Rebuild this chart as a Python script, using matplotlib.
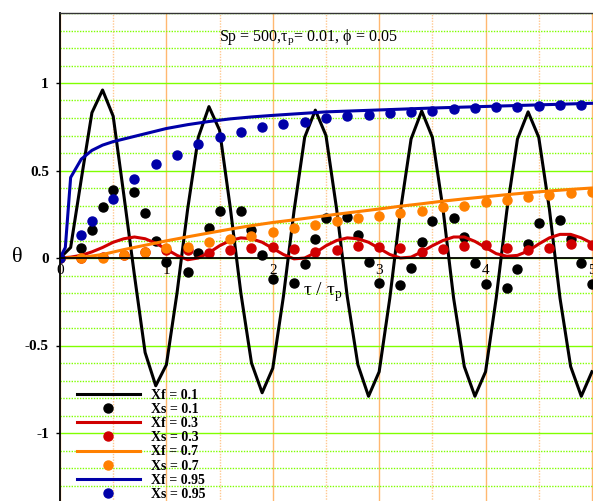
import numpy as np
import matplotlib
matplotlib.use("Agg")
import matplotlib.pyplot as plt
from matplotlib.ticker import MultipleLocator

plt.rcParams['font.family'] = ['Liberation Serif', 'DejaVu Serif']
plt.rcParams['mathtext.fontset'] = 'custom'
plt.rcParams['mathtext.rm'] = 'Liberation Serif'
plt.rcParams['axes.unicode_minus'] = False

nan = np.nan

# time grid tau/tau_p, step 0.1
t10 = np.round(np.arange(51) * 0.1, 1)
t20 = t10[::2]

# Xf = 0.1 (fluid, line)
xf01 = [0.0, 0.06, 0.45, 0.83, 0.96, 0.81, 0.36, -0.10, -0.54, -0.73,
        -0.61, -0.20, 0.28, 0.69, 0.865, 0.73, 0.29, -0.20, -0.60, -0.77,
        -0.63, -0.22, 0.27, 0.69, 0.845, 0.70, 0.28, -0.22, -0.61, -0.79,
        -0.65, -0.23, 0.27, 0.68, 0.84, 0.69, 0.28, -0.23, -0.62, -0.79,
        -0.65, -0.23, 0.27, 0.68, 0.835, 0.69, 0.28, -0.23, -0.62, -0.79,
        -0.65]
# Xs = 0.1 (solid, dots)
xs01 = [0.0, nan, 0.06, 0.16, 0.29, 0.39, nan, 0.38, 0.26, 0.10,
        -0.02, nan, -0.08, 0.03, 0.17, 0.27, nan, 0.27, 0.16, 0.02,
        -0.12, nan, -0.14, -0.035, 0.11, 0.23, nan, 0.235, 0.13, -0.02,
        -0.14, nan, -0.155, -0.055, 0.09, 0.21, nan, 0.23, 0.12, -0.03,
        -0.15, nan, -0.17, -0.06, 0.08, 0.20, nan, 0.215, 0.11, -0.03,
        -0.15]

# Xf = 0.3
xf03 = [0.0, 0.005, 0.015, 0.035, 0.06, 0.09, 0.11, 0.12, 0.11, 0.085,
        0.05, 0.015, -0.01, 0.0, 0.03, 0.07, 0.10, 0.115, 0.11, 0.09,
        0.055, 0.02, -0.005, 0.0, 0.03, 0.07, 0.10, 0.115, 0.11, 0.09,
        0.055, 0.02, 0.0, 0.005, 0.035, 0.07, 0.10, 0.12, 0.12, 0.095,
        0.06, 0.025, 0.01, 0.015, 0.04, 0.08, 0.115, 0.135, 0.135, 0.115,
        0.085]
# Xs = 0.3
xs03 = [0.0, 0.0, 0.005, 0.02, 0.035, 0.045, 0.045, 0.03, 0.045, 0.06,
        0.065, 0.05, 0.035, 0.045, 0.07, 0.065, 0.055, 0.035, 0.05, 0.07,
        0.075, 0.06, 0.045, 0.06, 0.08, 0.075]

# Xf = 0.7
xf07 = [0.0, 0.003, 0.02, 0.048, 0.073, 0.098, 0.121, 0.143, 0.165, 0.185,
        0.203, 0.218, 0.234, 0.25, 0.265, 0.28, 0.296, 0.31, 0.325, 0.338,
        0.35, 0.362, 0.373, 0.383, 0.392, 0.40]
# Xs = 0.7
xs07 = [0.0, 0.0, 0.0, 0.02, 0.035, 0.055, 0.065, 0.09, 0.11, 0.125,
        0.15, 0.17, 0.19, 0.21, 0.23, 0.24, 0.257, 0.27, 0.29, 0.30,
        0.32, 0.33, 0.35, 0.36, 0.37, 0.38]

# Xf = 0.95
xf95_t = [0.0, 0.05, 0.1, 0.2, 0.3, 0.4, 0.5, 0.6, 0.7, 0.8, 0.9, 1.0,
          1.2, 1.4, 1.6, 1.8, 2.0, 2.5, 3.0, 3.5, 4.0, 4.5, 5.0]
xf95 = [0.0, 0.06, 0.46, 0.565, 0.615, 0.645, 0.665, 0.68, 0.695, 0.71,
        0.725, 0.74, 0.762, 0.78, 0.795, 0.806, 0.815, 0.835, 0.846, 0.857,
        0.866, 0.875, 0.884]
# Xs = 0.95
xs95_t = [0.0, 0.2, 0.3, 0.5, 0.7, 0.9, 1.1, 1.3, 1.5, 1.7, 1.9, 2.1, 2.3,
          2.5, 2.7, 2.9, 3.1, 3.3, 3.5, 3.7, 3.9, 4.1, 4.3, 4.5, 4.7, 4.9]
xs95 = [0.0, 0.13, 0.21, 0.34, 0.45, 0.54, 0.59, 0.65, 0.69, 0.72,
        0.75, 0.765, 0.78, 0.80, 0.81, 0.817, 0.83, 0.834, 0.84, 0.85,
        0.857, 0.863, 0.863, 0.869, 0.874, 0.874]

c_black = '#000000'
c_red = '#d00000'
c_orange = '#ff8000'
c_blue = '#0000a8'

fig = plt.figure(figsize=(5.93, 5.01), dpi=100)
ax = fig.add_axes([60 / 593, -2 / 501, 533 / 593, 490 / 501])

lw = 2.2
ms = 6.5
ax.plot(t10, xf01, color=c_black, lw=lw, label='Xf = 0.1')
ax.plot(t10, xs01, color=c_black, ls='none', marker='o', ms=ms, label='Xs = 0.1')
ax.plot(t10, xf03, color=c_red, lw=lw, label='Xf = 0.3')
ax.plot(t20, xs03, color=c_red, ls='none', marker='o', ms=ms, label='Xs = 0.3')
ax.plot(t20, xf07, color=c_orange, lw=lw, label='Xf = 0.7')
ax.plot(t20, xs07, color=c_orange, ls='none', marker='o', ms=ms, label='Xs = 0.7')
ax.plot(xf95_t, xf95, color=c_blue, lw=lw, label='Xf = 0.95')
ax.plot(xs95_t, xs95, color=c_blue, ls='none', marker='o', ms=ms, label='Xs = 0.95')

ax.set_xlim(0, 5.01)
ax.set_ylim(-1.4, 1.4)

# grid: orange verticals, green horizontals
ax.set_axisbelow(True)
ax.xaxis.set_major_locator(MultipleLocator(1))
ax.xaxis.set_minor_locator(MultipleLocator(0.5))
ax.set_yticks([-1, -0.5, 0, 0.5, 1])
ax.set_yticklabels(['-1', '-0.5', '0', '0.5', '1'], fontweight='bold', fontsize=11)
ax.yaxis.set_minor_locator(MultipleLocator(0.1))
ax.grid(True, which='major', axis='x', color='#ffb870', lw=1.0)
ax.grid(True, which='minor', axis='x', color='#ffc890', lw=1.0, ls=(0, (1, 1)))
ax.grid(True, which='major', axis='y', color='#80ff00', lw=1.0)
ax.grid(True, which='minor', axis='y', color='#80ff00', lw=1.0, ls=(0, (1, 1)))

ax.spines['bottom'].set_position(('data', 0))
ax.spines['bottom'].set_linewidth(1.3)
ax.spines['left'].set_linewidth(1.3)
ax.spines['top'].set_linewidth(1.0)
ax.spines['top'].set_color('#333333')
ax.spines['right'].set_visible(False)

ax.tick_params(axis='x', which='both', length=0, pad=4, labelsize=11)
ax.tick_params(axis='y', which='major', length=3, width=1, pad=5, direction='out')
ax.tick_params(axis='y', which='minor', length=0)

ax.set_ylabel('θ', rotation=0, fontsize=16, va='center', ha='center')
ax.yaxis.set_label_coords(-0.08, 0.5)
ax.set_xlabel(r'τ / τ${}_\mathrm{p}$', fontsize=14, va='center', ha='center')
ax.xaxis.set_label_coords(0.492, 0.43)

ax.text(0.465, 0.951, r'Sp = 500,τ${}_\mathrm{p}$= 0.01, ϕ = 0.05',
        transform=ax.transAxes, ha='center', va='center', fontsize=11.5)

ax.legend(loc='upper left', bbox_to_anchor=(77 / 593, 1 - 389 / 501),
          bbox_transform=fig.transFigure, frameon=False, borderpad=0,
          borderaxespad=0, handlelength=4.5, handletextpad=0.8,
          labelspacing=0.08, numpoints=1,
          prop={'family': 'Liberation Serif', 'weight': 'bold', 'size': 10})

fig.savefig('out.png', dpi=100)
